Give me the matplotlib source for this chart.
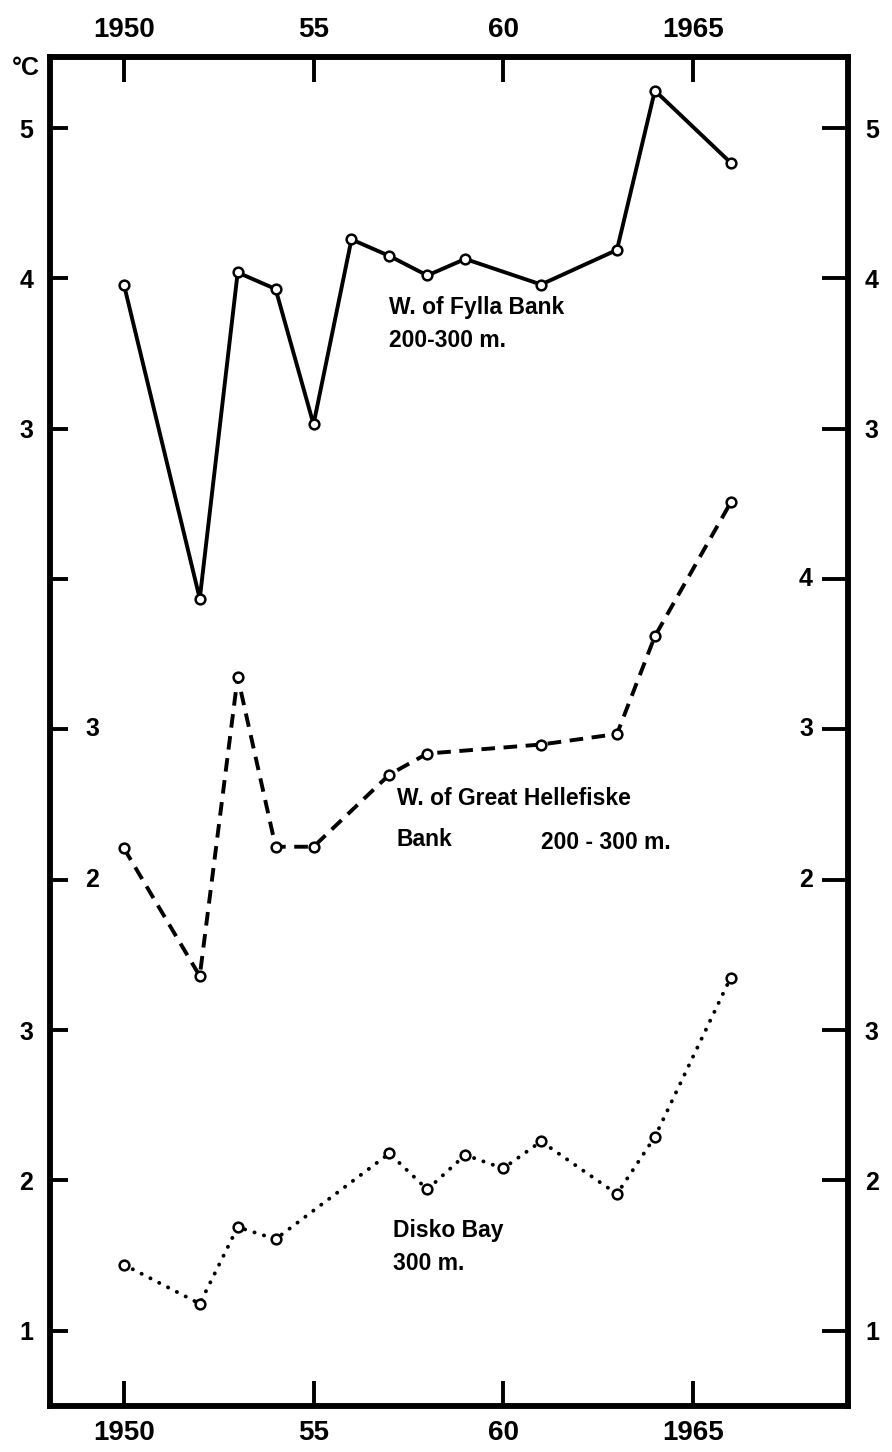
import matplotlib
matplotlib.use('Agg')
import matplotlib.pyplot as plt

# bottom-water temperature records, West Greenland (deg C)
fylla_years = [1950, 1952, 1953, 1954, 1955, 1956, 1957, 1958, 1959, 1961, 1963, 1964, 1966]
fylla_temp = [3.96, 1.87, 4.04, 3.93, 3.03, 4.26, 4.15, 4.02, 4.13, 3.96, 4.19, 5.25, 4.77]

hellefiske_years = [1950, 1952, 1953, 1954, 1955, 1957, 1958, 1961, 1963, 1964, 1966]
hellefiske_temp = [2.21, 1.36, 3.35, 2.22, 2.22, 2.70, 2.84, 2.90, 2.97, 3.62, 4.51]

disko_years = [1950, 1952, 1953, 1954, 1957, 1958, 1959, 1960, 1961, 1963, 1964, 1966]
disko_temp = [1.44, 1.18, 1.69, 1.61, 2.18, 1.94, 2.17, 2.08, 2.26, 1.91, 2.29, 3.35]

year_ticks = [1950, 1955, 1960, 1965]
year_labels = ['1950', '55', '60', '1965']

fylla_ticks = [5, 4, 3, 2]
fylla_labels = ['5', '4', '3', '']
hellefiske_ticks_left = [3, 2]
hellefiske_ticks_right = [4, 3, 2]
disko_ticks = [3, 2, 1]

# vertical shift of each curve on the shared axis
_off_fylla = 0
_off_hell = -2
_off_disko = -4

FONT = ['Liberation Sans', 'DejaVu Sans']


def draw_series(ax, xs, ys, off, style):
    _ys = [_v + off for _v in ys]
    ax.plot(xs, _ys, color='black', **style)
    ax.plot(xs, _ys, linestyle='none', marker='o', markersize=7,
            markerfacecolor='white', markeredgecolor='black', markeredgewidth=1.8, zorder=5)


def draw_chart(f_out):
    plt.rcParams['font.family'] = FONT
    plt.rcParams['font.weight'] = 'bold'

    fig = plt.figure(figsize=(8.92, 14.52), dpi=100, facecolor='w')
    ax = fig.add_axes([0.056, 0.0317, 0.895, 0.929])

    draw_series(ax, fylla_years, fylla_temp, _off_fylla,
                dict(linestyle='-', linewidth=2.8))
    draw_series(ax, hellefiske_years, hellefiske_temp, _off_hell,
                dict(linestyle=(0, (3.5, 2.2)), linewidth=2.8))
    draw_series(ax, disko_years, disko_temp, _off_disko,
                dict(linestyle=(0, (0.05, 2.5)), linewidth=2.8,
                     dash_capstyle='round'))

    ax.set_xlim(1948.05, 1969.1)
    ax.set_ylim(-3.5, 5.473)

    for _s in ax.spines.values():
        _s.set_linewidth(4)

    ax.set_xticks(year_ticks)
    ax.set_xticklabels(year_labels)
    ax.tick_params(axis='x', direction='in', length=18, width=2.8,
                   top=True, labeltop=True, labelsize=20, pad=10)

    # left scale: outer labels for Fylla and Disko, inner ones for Hellefiske
    _pos = [_v + _off_fylla for _v in fylla_ticks] + \
           [_v + _off_hell for _v in hellefiske_ticks_left] + \
           [_v + _off_disko for _v in disko_ticks]
    _lab = fylla_labels + [''] * len(hellefiske_ticks_left) + [str(_v) for _v in disko_ticks]
    ax.set_yticks(_pos)
    ax.set_yticklabels(_lab)
    ax.tick_params(axis='y', direction='in', length=13, width=2.8,
                   labelsize=18, pad=12)

    _tr = ax.get_yaxis_transform()
    for _v in hellefiske_ticks_left:
        ax.text(0.053, _v + _off_hell, str(_v), transform=_tr, fontsize=18,
                ha='center', va='center', fontweight='bold')

    ax2 = ax.twinx()
    ax2.set_ylim(ax.get_ylim())
    for _s in ax2.spines.values():
        _s.set_linewidth(4)
    _pos = [_v + _off_fylla for _v in fylla_ticks[:3]] + \
           [_v + _off_hell for _v in hellefiske_ticks_right] + \
           [_v + _off_disko for _v in disko_ticks]
    _lab = fylla_labels[:3] + [''] * len(hellefiske_ticks_right) + [str(_v) for _v in disko_ticks]
    ax2.set_yticks(_pos)
    ax2.set_yticklabels(_lab)
    ax2.tick_params(axis='y', direction='in', length=19, width=2.8,
                    labelsize=18, pad=12)
    _tr2 = ax2.get_yaxis_transform()
    for _v in hellefiske_ticks_right:
        ax2.text(0.947, _v + _off_hell, str(_v), transform=_tr2, fontsize=18,
                 ha='center', va='center', fontweight='bold')

    ax.text(-0.012, 0.992, '°C', transform=ax.transAxes, fontsize=18,
            ha='right', va='center', fontweight='bold')

    _kw = dict(fontsize=16.5, fontweight='bold', ha='left', va='center')
    ax.text(1957.0, 3.81 + _off_fylla, 'W. of Fylla Bank', **_kw)
    ax.text(1957.0, 3.59 + _off_fylla, '200-300 m.', **_kw)
    ax.text(1957.2, 2.54 + _off_hell, 'W. of Great Hellefiske', **_kw)
    ax.text(1957.2, 2.27 + _off_hell, 'Bank', **_kw)
    ax.text(1961.0, 2.25 + _off_hell, '200 - 300 m.', **_kw)
    ax.text(1957.1, 1.67 + _off_disko, 'Disko Bay', **_kw)
    ax.text(1957.1, 1.45 + _off_disko, '300 m.', **_kw)

    fig.savefig(f_out, dpi=100)


if __name__ == '__main__':
    draw_chart('out.png')
